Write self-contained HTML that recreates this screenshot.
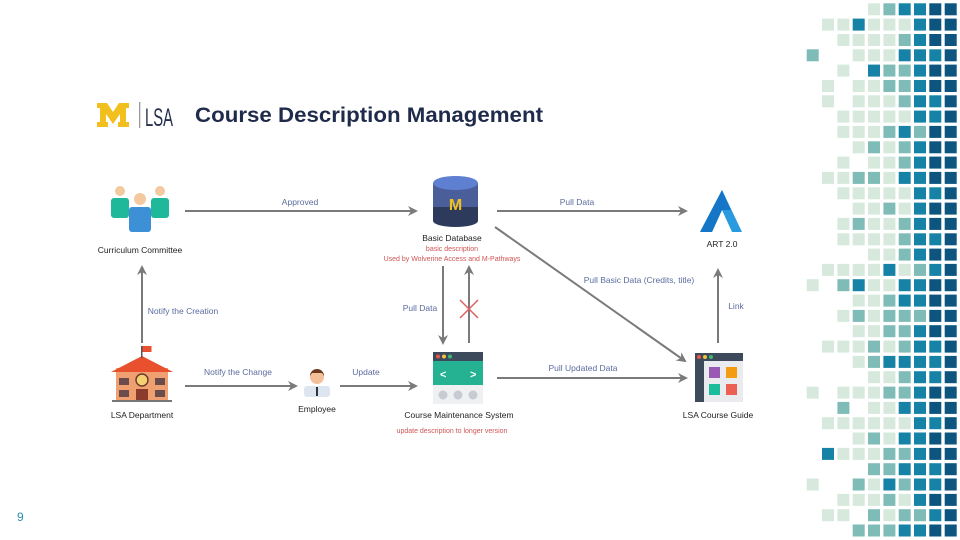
<!DOCTYPE html>
<html><head><meta charset="utf-8"><style>
html,body{margin:0;padding:0;background:#fff;}
svg{display:block;}
text{font-family:"Liberation Sans",sans-serif;}
</style></head><body>
<svg width="960" height="540" viewBox="0 0 960 540" xmlns="http://www.w3.org/2000/svg">
<defs>
<marker id="ah" markerWidth="10" markerHeight="10" refX="8" refY="5" orient="auto" markerUnits="userSpaceOnUse">
<path d="M0,0 L10,5 L0,10 L3,5 z" fill="#7a7a7a"/></marker>
</defs>
<g id="grid"></g>
<!-- title -->
<path d="M97,103 h10 l6,9 l6,-9 h10 v5 h-3 v14 h3 v5 h-11 v-5 h2 v-8 l-7,10 l-7,-10 v8 h2 v5 h-11 v-5 h3 v-14 h-3 z" fill="#f2c01e"/>
<rect x="139" y="102" width="1.3" height="26" fill="#999"/>
<text x="145" y="126" font-size="25" fill="#23304f" textLength="28" lengthAdjust="spacingAndGlyphs" font-weight="normal">LSA</text>
<text x="195" y="122" font-size="21" font-weight="bold" fill="#1f2b4b" textLength="348" lengthAdjust="spacingAndGlyphs">Course Description Management</text>
<!-- arrows -->
<g stroke="#7a7a7a" stroke-width="2" fill="none" marker-end="url(#ah)">
<line x1="185" y1="211" x2="416" y2="211"/>
<line x1="497" y1="211" x2="686" y2="211"/>
<line x1="495" y1="227" x2="685" y2="361"/>
<line x1="443" y1="266" x2="443" y2="343"/>
<line x1="469" y1="343" x2="469" y2="267"/>
<line x1="142" y1="343" x2="142" y2="267"/>
<line x1="185" y1="386" x2="296" y2="386"/>
<line x1="340" y1="386" x2="416" y2="386"/>
<line x1="497" y1="378" x2="686" y2="378"/>
<line x1="718" y1="343" x2="718" y2="270"/>
</g>
<g stroke="#e06060" stroke-width="1.5"><line x1="460" y1="300" x2="478" y2="318"/><line x1="478" y1="300" x2="460" y2="318"/></g>
<!-- arrow labels -->
<g font-size="8.5" fill="#5b6b9e" text-anchor="middle">
<text x="300" y="205">Approved</text>
<text x="577" y="205">Pull Data</text>
<text x="639" y="283">Pull Basic Data (Credits, title)</text>
<text x="420" y="311">Pull Data</text>
<text x="183" y="314">Notify the Creation</text>
<text x="238" y="375">Notify the Change</text>
<text x="366" y="375">Update</text>
<text x="583" y="371">Pull Updated Data</text>
<text x="736" y="309">Link</text>
</g>
<!-- node labels -->
<g font-size="8.5" fill="#222" text-anchor="middle">
<text x="140" y="253">Curriculum Committee</text>
<text x="452" y="241">Basic Database</text>
<text x="722" y="247">ART 2.0</text>
<text x="142" y="418">LSA Department</text>
<text x="317" y="412">Employee</text>
<text x="459" y="418">Course Maintenance System</text>
<text x="718" y="418">LSA Course Guide</text>
</g>
<g font-size="7" fill="#d05555" text-anchor="middle">
<text x="452" y="251">basic description</text>
<text x="452" y="261">Used by Wolverine Access and M-Pathways</text>
<text x="452" y="433">update description to longer version</text>
</g>
<!-- committee icon -->
<g>
<circle cx="120" cy="191" r="5" fill="#f3c9a0"/><rect x="111" y="198" width="18" height="20" rx="3" fill="#1fb89a"/>
<circle cx="160" cy="191" r="5" fill="#f3c9a0"/><rect x="151" y="198" width="18" height="20" rx="3" fill="#1fb89a"/>
<circle cx="140" cy="199" r="6" fill="#f3c9a0"/><rect x="129" y="207" width="22" height="25" rx="3" fill="#3d8fd6"/>
</g>
<!-- database -->
<g>
<rect x="433" y="183" width="45" height="38" fill="#2d3a5c"/>
<ellipse cx="455.5" cy="221" rx="22.5" ry="6" fill="#2d3a5c"/>
<rect x="433" y="183" width="45" height="24" fill="#4a5f9a"/>
<ellipse cx="455.5" cy="183" rx="22.5" ry="7" fill="#5f7fd0"/>
<text x="455.5" y="210" font-size="16" font-weight="bold" fill="#f2c01e" text-anchor="middle" font-family="Liberation Serif,serif">M</text>
</g>
<!-- ART -->
<path d="M722,190 L742,232 L732,232 L722,210 L712,232 L700,232 Z" fill="#2a9ae0"/>
<path d="M722,190 L731,210 L722,210 L712,232 L700,232 Z" fill="#1576c8"/>
<!-- school -->
<g>
<rect x="116" y="368" width="52" height="32" fill="#f0a070"/>
<path d="M111,372 L142,356 L173,372 Z" fill="#e8502e"/>
<rect x="141" y="346" width="1.5" height="12" fill="#555"/>
<path d="M142.5,346 h9 v6 h-9 z" fill="#e8502e"/>
<circle cx="142" cy="380" r="6" fill="#f5d070" stroke="#6b3b2b" stroke-width="1.5"/>
<rect x="136" y="389" width="12" height="11" fill="#8a3b2b"/>
<rect x="119" y="378" width="10" height="7" fill="#6b4b4b"/><rect x="155" y="378" width="10" height="7" fill="#6b4b4b"/>
<rect x="119" y="390" width="10" height="7" fill="#6b4b4b"/><rect x="155" y="390" width="10" height="7" fill="#6b4b4b"/>
<rect x="112" y="400" width="60" height="2" fill="#777"/>
</g>
<!-- employee -->
<g>
<rect x="304" y="386" width="26" height="11" rx="3" fill="#dde6f0"/>
<rect x="316" y="387" width="2" height="9" fill="#333"/>
<circle cx="317" cy="377" r="7" fill="#f3c09a"/>
<path d="M310,376 a7,7 0 0 1 14,0 l-2,-3 h-10 z" fill="#6b3a1e"/>
</g>
<!-- CMS -->
<g>
<rect x="433" y="352" width="50" height="52" fill="#eef0f2"/>
<rect x="433" y="352" width="50" height="9" fill="#3c4a5c"/>
<circle cx="438" cy="356.5" r="2" fill="#e8584a"/><circle cx="444" cy="356.5" r="2" fill="#f3c33a"/><circle cx="450" cy="356.5" r="2" fill="#3cb878"/>
<rect x="433" y="361" width="50" height="24" fill="#25b293"/>
<text x="440" y="378" font-size="11" font-weight="bold" fill="#fff">&lt;</text>
<text x="470" y="378" font-size="11" font-weight="bold" fill="#fff">&gt;</text>
<circle cx="443" cy="395" r="4.5" fill="#c8ccd2"/><circle cx="458" cy="395" r="4.5" fill="#c8ccd2"/><circle cx="473" cy="395" r="4.5" fill="#c8ccd2"/>
</g>
<!-- course guide -->
<g>
<rect x="695" y="353" width="48" height="49" fill="#e9ebee"/>
<rect x="695" y="353" width="48" height="8" fill="#3c4a5c"/>
<rect x="695" y="361" width="9" height="41" fill="#3c4a5c"/>
<circle cx="699" cy="357" r="2" fill="#e8584a"/><circle cx="705" cy="357" r="2" fill="#f3c33a"/><circle cx="711" cy="357" r="2" fill="#3cb878"/>
<rect x="709" y="367" width="11" height="11" fill="#9b59b6"/><rect x="726" y="367" width="11" height="11" fill="#f39c12"/>
<rect x="709" y="384" width="11" height="11" fill="#1abc9c"/><rect x="726" y="384" width="11" height="11" fill="#ec5f55"/>
</g>
<text x="17" y="521" font-size="12" fill="#2a8fb0">9</text>
</svg>
<script>
(function(){
var rows=["0000LMTTDD","0LLTLLLTDD","00LLLLMTDD","M00LLLTTTD","00L0TMMTDD","0L0LLMMTDD","0L0LLLMTTD","00LLLLLTTD","00LLLMTMDD","000LMLMTDD","00L0LLMTDD","0LLMMLTTDD","00LLLLLTTD","000LLMLTDD","00LMLLMTDD","00LLLLMTTD","0000LLMTDD","0LLLLTLMTD","L0MTLLTTDD","000LLMTTDD","00LMLMMMDD","000LLMMTDD","0LLLMLMTTD","000LMTTTTD","0000LLMTTD","L0LLLMMTDD","00M0LLTTDD","0LLLLLLTTD","000LMLTTDD","0TLLLMMTDD","0000MMTTTD","L00MLTMTTD","00LLLMLTDD","0LL0MLMMTD","000MMMTTDD"];
var col={L:"#d6e9dc",M:"#7fbcb7",T:"#1683a6",D:"#0d557f"};
var g=document.getElementById("grid"),s="";
for(var r=0;r<rows.length;r++){for(var c=0;c<10;c++){var ch=rows[r][c];if(ch==="0")continue;
var x=806.7+c*15.33,y=3.3+r*15.33;
s+='<rect x="'+x.toFixed(1)+'" y="'+y.toFixed(1)+'" width="12" height="12" fill="'+col[ch]+'"/>';}}
g.innerHTML=s;})();
</script>
</body></html>
